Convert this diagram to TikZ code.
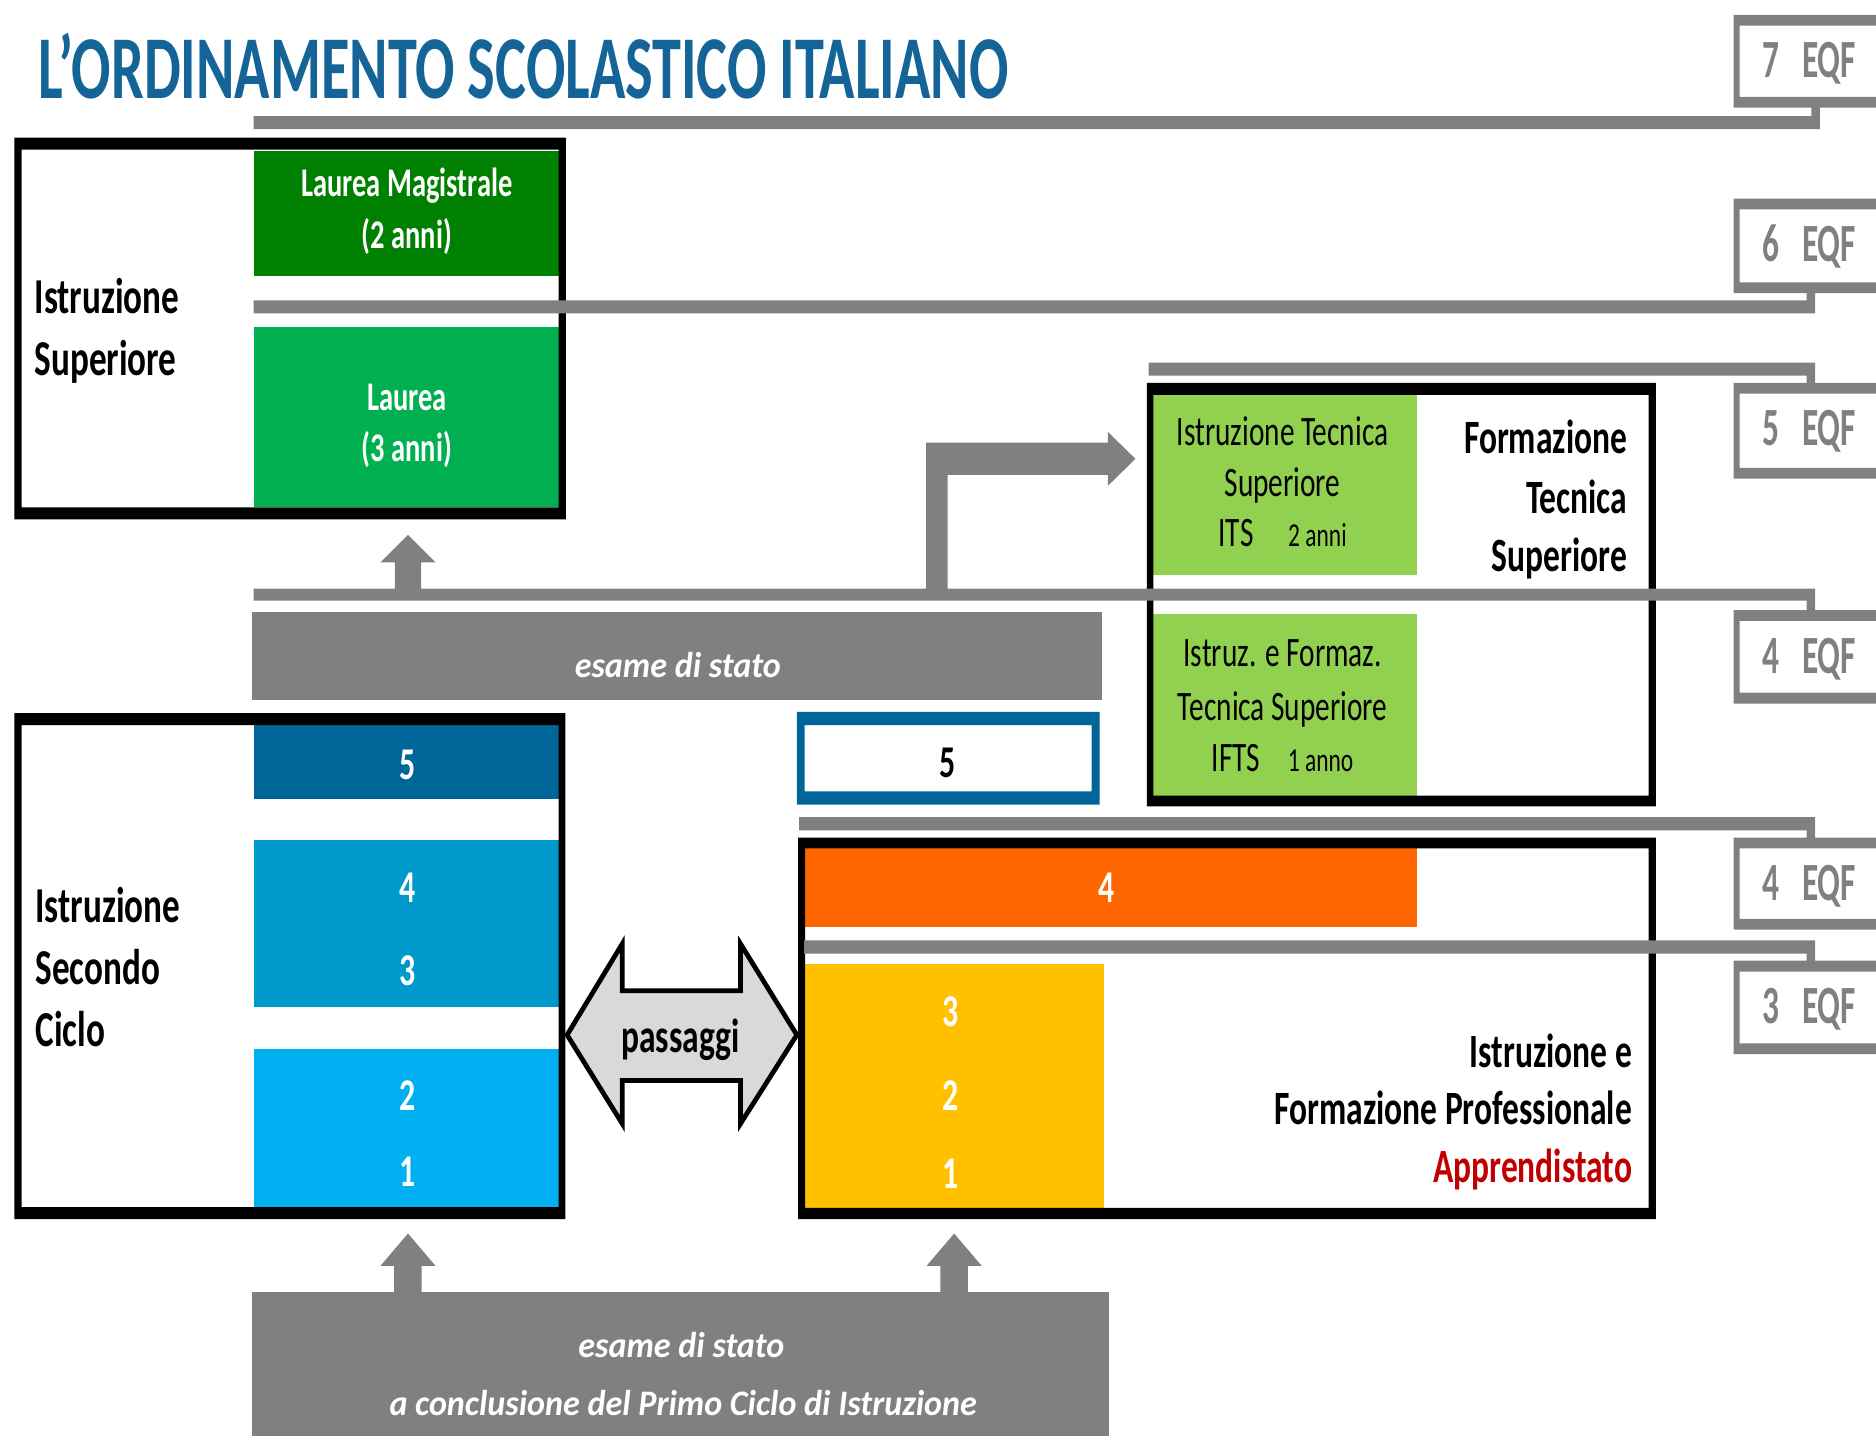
\documentclass[tikz,border=0pt]{standalone}
\usepackage{fontspec}
\setmainfont{Carlito}[FakeStretch=0.7]
\newfontfamily\titlefont{Carlito}[FakeStretch=0.65]
\newfontfamily\itfont{Carlito}[FakeStretch=0.95]
\newfontfamily\eqffont{Carlito}[FakeStretch=0.62]
\definecolor{lvgray}{RGB}{128,128,128}
\definecolor{titleblue}{RGB}{20,100,152}
\definecolor{dgreen}{RGB}{0,128,0}
\definecolor{mgreen}{RGB}{0,176,80}
\definecolor{lgreen}{RGB}{146,208,80}
\definecolor{blueA}{RGB}{0,102,153}
\definecolor{blueB}{RGB}{0,153,204}
\definecolor{blueC}{RGB}{0,176,240}
\definecolor{orangeF}{RGB}{255,102,0}
\definecolor{yellowC}{RGB}{255,192,0}
\definecolor{pgray}{RGB}{217,217,217}
\definecolor{redA}{RGB}{192,0,0}
\begin{document}
\begin{tikzpicture}[x=1pt,y=-1pt,
  txt/.style={inner sep=0pt,outer sep=0pt},
  titletxt/.style={txt,anchor=base west,text=titleblue,font=\titlefont\bfseries\fontsize{75}{80}\selectfont},
  wtxt/.style={txt,anchor=base,text=white,font=\bfseries\fontsize{34}{40}\selectfont},
  num/.style={txt,text=white,font=\bfseries\fontsize{38}{40}\selectfont},
  lab/.style={txt,anchor=base west,font=\bfseries\fontsize{42}{48}\selectfont},
  rlab/.style={txt,anchor=base east,font=\bfseries\fontsize{40}{48}\selectfont},
  gtxt/.style={txt,anchor=base,font=\fontsize{35}{42}\selectfont},
  eqf/.style={txt,anchor=base west,text=lvgray,font=\eqffont\bfseries\fontsize{45}{48}\selectfont},
  esame/.style={txt,anchor=base,text=white,font=\itfont\bfseries\itshape\fontsize{30}{36}\selectfont},
]
\useasboundingbox (0,0) rectangle (1568,1200);
\clip (0,0) rectangle (1568,1200);
\fill[white] (0,0) rectangle (1568,1200);

% grey exam bars
\fill[lvgray] (211,511.6) rectangle (921,585);
\fill[lvgray] (211,1080) rectangle (927,1210);

% coloured blocks
\fill[dgreen] (212,126) rectangle (467,231);
\fill[mgreen] (212,273) rectangle (467,424);
\fill[blueA] (212,606) rectangle (467,667.6);
\fill[blueB] (212,702) rectangle (467,842);
\fill[blueC] (212,876.5) rectangle (467,1009);
\fill[lgreen] (964,330) rectangle (1184,481);
\fill[lgreen] (964,513) rectangle (1184,665);
\fill[orangeF] (673,709) rectangle (1184,774.5);
\fill[yellowC] (673,805.5) rectangle (922.6,1009.5);

% black frames
\fill[black,even odd rule] (12,115) rectangle (473,434) (18,125) rectangle (467,424);
\fill[black,even odd rule] (12,596) rectangle (472.5,1019) (18,606) rectangle (467,1009);
\fill[black,even odd rule] (958.5,320) rectangle (1384,674) (964,330) rectangle (1378,665);
\fill[black,even odd rule] (667,700) rectangle (1384,1019) (673,709) rectangle (1378,1009.5);
\fill[blueA,even odd rule] (666,595) rectangle (919,672.5) (672.6,606) rectangle (912.4,661.5);

% EQF frames
\foreach \t/\b in {12.5/90,166/245,320/400,510/588,700/777,803/881}{
  \fill[lvgray,even odd rule] (1449,\t) rectangle (1610,\b) (1454,\t+9) rectangle (1605,\b-9);}

% level lines
\fill[lvgray] (212,97) rectangle (1521,108) (1514,85) rectangle (1521,108);
\fill[lvgray] (212,251) rectangle (1517,262) (1510,240) rectangle (1517,262);
\fill[lvgray] (960,303) rectangle (1517,314) (1510,303) rectangle (1517,325);
\fill[lvgray] (212,492) rectangle (1517,502) (1510,492) rectangle (1517,515);
\fill[lvgray] (668,683) rectangle (1517,694) (1510,683) rectangle (1517,705);
\fill[lvgray] (672,786) rectangle (1517,797) (1510,786) rectangle (1517,808);

% block arrows
\fill[lvgray] (330,493) -- (330,470) -- (318,470) -- (341,447) -- (364,470) -- (352,470) -- (352,493) -- cycle;
\fill[lvgray] (774,497) -- (774,370) -- (926,370) -- (926,361) -- (949,383.5) -- (926,406) -- (926,397) -- (792,397) -- (792,497) -- cycle;
\fill[lvgray] (329.5,1082) -- (329.5,1058) -- (318,1058) -- (341,1031) -- (364,1058) -- (352.5,1058) -- (352.5,1082) -- cycle;
\fill[lvgray] (786,1082) -- (786,1058) -- (774.5,1058) -- (797.5,1031) -- (820.5,1058) -- (809,1058) -- (809,1082) -- cycle;
\filldraw[fill=pgray,draw=black,line width=4,line join=miter] (474,865) -- (520,789) -- (520,828) -- (619,828) -- (619,789) -- (666,865) -- (619,939) -- (619,903) -- (520,903) -- (520,939) -- cycle;

% texts
\node[titletxt] (title) at (32,82) {L’ORDINAMENTO SCOLASTICO ITALIANO};

\node[eqf] (eqf7) at (1473,65) {7\hspace{19pt}EQF};
\node[eqf] (eqf6) at (1473,218.5) {6\hspace{19pt}EQF};
\node[eqf] (eqf5) at (1473,372.5) {5\hspace{19pt}EQF};
\node[eqf] (eqf4a) at (1473,562.5) {4\hspace{19pt}EQF};
\node[eqf] (eqf4b) at (1473,752.5) {4\hspace{19pt}EQF};
\node[eqf] (eqf3) at (1473,855.5) {3\hspace{19pt}EQF};

\node[lab] (is1) at (29,262) {Istruzione};
\node[lab] (is2) at (29,313.6) {Superiore};
\node[wtxt] (lm1) at (340,164) {Laurea Magistrale};
\node[wtxt] (lm2) at (340,207.6) {(2 anni)};
\node[wtxt] (la1) at (340,343) {Laurea};
\node[wtxt] (la2) at (340,386) {(3 anni)};

\node[lab] (sc1) at (29.7,771) {Istruzione};
\node[lab] (sc2) at (29.7,823) {Secondo};
\node[lab] (sc3) at (29.7,874.6) {Ciclo};
\node[num] (n5) at (341,639) {5};
\node[num] (n4) at (341,742) {4};
\node[num] (n3) at (341,811) {3};
\node[num] (n2) at (341,915.6) {2};
\node[num] (n1) at (341,979.6) {1};

\node[num,text=black] (b5) at (792,638) {5};
\node[num] (o4) at (925,742) {4};
\node[num] (y3) at (794.5,846) {3};
\node[num] (y2) at (794.5,916) {2};
\node[num] (y1) at (794.5,981) {1};

\node[esame] (es1) at (566.5,566) {esame di stato};
\node[esame] (es2) at (569.5,1134.5) {esame di stato};
\node[esame] (es3) at (571,1183) {a conclusione del Primo Ciclo di Istruzione};

\node[txt,anchor=base,font=\bfseries\fontsize{40}{44}\selectfont] (pass) at (568.6,880) {passaggi};

\node[gtxt] (its1) at (1072,372) {Istruzione Tecnica};
\node[gtxt] (its2) at (1072,415) {Superiore};
\node[gtxt] (its3) at (1072,457) {ITS\hspace{29pt}{\fontsize{28}{30}\selectfont 2 anni}};
\node[gtxt] (ifts1) at (1072,557.4) {Istruz. e Formaz.};
\node[gtxt] (ifts2) at (1072,602) {Tecnica Superiore};
\node[gtxt] (ifts3) at (1072,645) {IFTS\hspace{23pt}{\fontsize{28}{30}\selectfont 1 anno}};

\node[rlab] (fts1) at (1360,379) {Formazione};
\node[rlab] (fts2) at (1360,429) {Tecnica};
\node[rlab] (fts3) at (1360,478) {Superiore};

\node[rlab] (ifp1) at (1364,892) {Istruzione e};
\node[rlab] (ifp2) at (1364,939.5) {Formazione Professionale};
\node[rlab,text=redA] (ifp3) at (1364,988.6) {Apprendistato};
\end{tikzpicture}
\end{document}
